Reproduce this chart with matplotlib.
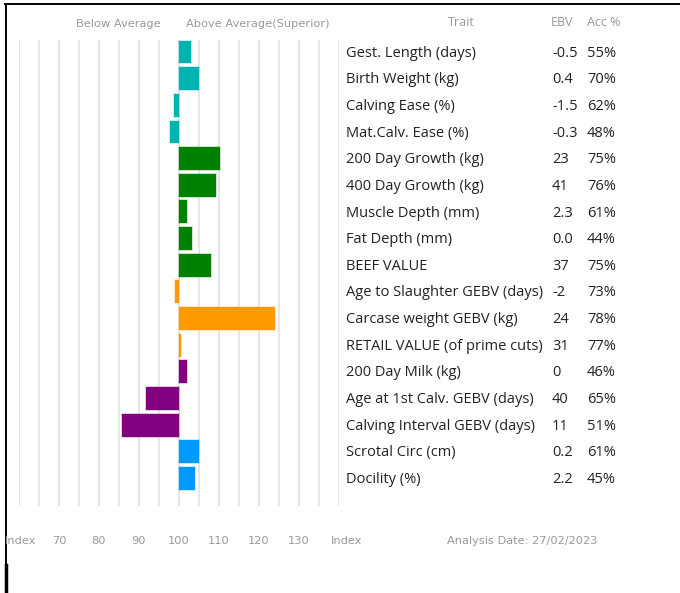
import matplotlib
matplotlib.use("Agg")
import matplotlib.pyplot as plt
from matplotlib.lines import Line2D
from matplotlib import transforms

# Data
traits = ["Gest. Length (days)", "Birth Weight (kg)", "Calving Ease (%)", "Mat.Calv. Ease (%)",
          "200 Day Growth (kg)", "400 Day Growth (kg)", "Muscle Depth (mm)", "Fat Depth (mm)",
          "BEEF VALUE", "Age to Slaughter GEBV (days)", "Carcase weight GEBV (kg)",
          "RETAIL VALUE (of prime cuts)", "200 Day Milk (kg)", "Age at 1st Calv. GEBV (days)",
          "Calving Interval GEBV (days)", "Scrotal Circ (cm)", "Docility (%)"]
ebv = ["-0.5", "0.4", "-1.5", "-0.3", "23", "41", "2.3", "0.0", "37", "-2", "24", "31",
       "0", "40", "11", "0.2", "2.2"]
acc = ["55%", "70%", "62%", "48%", "75%", "76%", "61%", "44%", "75%", "73%", "78%", "77%",
       "46%", "65%", "51%", "61%", "45%"]
index = [103, 105, 98.8, 97.8, 110.3, 109.2, 102, 103.2, 108, 99, 124, 100.4,
         102, 91.8, 85.7, 105, 104]
groups = ["calving"] * 4 + ["growth"] * 5 + ["carcase"] * 3 + ["maternal"] * 3 + ["other"] * 2
group_colors = {"calving": "#00b3b3", "growth": "#008000", "carcase": "#ff9900",
                "maternal": "#800080", "other": "#0099ff"}
index_ticks = [70, 80, 90, 100, 110, 120, 130]

W, H = 680, 593
fig = plt.figure(figsize=(W / 100, H / 100), dpi=100)

def fx(px):
    return px / W

def fy(py):
    return 1 - py / H

# bar area: index 60..140, y pixels 40..506
ax = fig.add_axes([fx(19), fy(506), fx(339) - fx(19), fy(40) - fy(506)])
n = len(traits)
rows = list(range(n))
colors = [group_colors[g] for g in groups]
ax.barh(rows, [v - 100 for v in index], left=100, height=0.86, color=colors,
        edgecolor=[c + "40" for c in colors], linewidth=1.2, zorder=3)
ax.set_xlim(60, 140)
ax.set_ylim(17.03, -0.45)
ax.set_xticks(range(60, 141, 5))
ax.set_yticks([])
ax.tick_params(axis="x", length=0, labelbottom=False)
ax.grid(axis="x", color="#e6e6e6", linewidth=1.5, zorder=0)
for s in ax.spines.values():
    s.set_visible(False)

table_font = "Open Sans"
row_tr = transforms.blended_transform_factory(fig.transFigure, ax.transData)
for i in rows:
    y = i + 0.04
    ax.text(fx(346), y, traits[i], transform=row_tr, ha="left", va="center",
            fontsize=10.5, family=table_font, color="#222222")
    ax.text(fx(552), y, ebv[i], transform=row_tr, ha="left", va="center",
            fontsize=10.5, family=table_font, color="#222222")
    ax.text(fx(587), y, acc[i], transform=row_tr, ha="left", va="center",
            fontsize=10.5, family=table_font, color="#222222")

# headers
gray = "#999999"
fig.text(fx(118), fy(24), "Below Average", ha="center", va="center", fontsize=8.2, color=gray)
fig.text(fx(258), fy(24), "Above Average(Superior)", ha="center", va="center", fontsize=8.2, color=gray)
fig.text(fx(461), fy(23), "Trait", ha="center", va="center", fontsize=9, family=table_font, color=gray)
fig.text(fx(562), fy(23), "EBV", ha="center", va="center", fontsize=9, family=table_font, color=gray)
fig.text(fx(604), fy(23), "Acc %", ha="center", va="center", fontsize=9, family=table_font, color=gray)

# bottom index scale
tick_tr = transforms.blended_transform_factory(ax.transData, fig.transFigure)
for t in index_ticks:
    ax.text(t, fy(541), str(t), transform=tick_tr, ha="center", va="center",
            fontsize=8.2, color=gray)
fig.text(fx(5), fy(541), "Index", ha="left", va="center", fontsize=8.2, color=gray)
fig.text(fx(331), fy(541), "Index", ha="left", va="center", fontsize=8.2, color=gray)
fig.text(fx(447), fy(541), "Analysis Date: 27/02/2023", ha="left", va="center", fontsize=8.2, color=gray)

# frame lines
fig.add_artist(Line2D([fx(5), 1], [fy(4), fy(4)], color="black", linewidth=1.4))
fig.add_artist(Line2D([fx(5.5), fx(5.5)], [fy(4), 0], color="black", linewidth=1.4))
fig.add_artist(Line2D([fx(6), fx(6)], [fy(565), 0], color="black", linewidth=2.5))

fig.savefig("out.png", dpi=100)
